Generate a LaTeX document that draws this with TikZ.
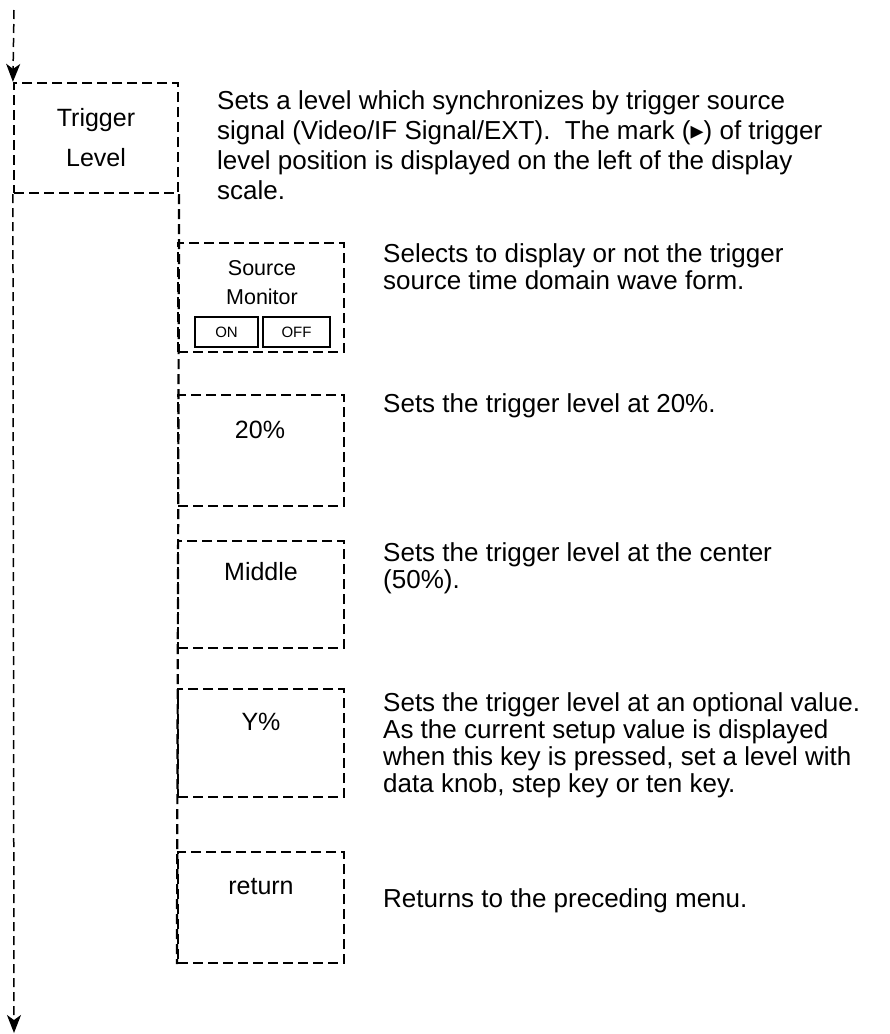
\documentclass[tikz,border=0pt]{standalone}
\usepackage{fontspec}
\setmainfont{Liberation Sans}
\newfontfamily\symf{DejaVu Sans}
\usetikzlibrary{arrows.meta}
\tikzset{
  flowline/.style={line width=1.5pt, dash pattern=on 9pt off 5pt},
  colline/.style={line width=2.2pt, dash pattern=on 10pt off 5pt},
  menubox/.style={draw, line width=2.2pt, dash pattern=on 10pt off 5pt, rectangle, inner sep=0pt},
  keybtn/.style={draw, line width=1.8pt, rectangle, inner sep=0pt, font=\fontsize{15}{15}\selectfont},
  boxlabel/.style={inner sep=0pt, align=center, font=\fontsize{25}{40}\selectfont},
  desc/.style={inner sep=0pt, anchor=north west, align=left, font=\fontsize{26}{27}\selectfont},
  tip/.style={-{Stealth[length=18pt,width=14pt,inset=5pt]}}
}
\begin{document}
\begin{tikzpicture}[x=1pt,y=-1pt]
\useasboundingbox (0,0) rectangle (890,1034);
% boxes
\node[menubox, minimum width=164, minimum height=110] (trig) at (96,138) {};
\node[menubox, minimum width=166, minimum height=109] (src) at (261,297.5) {};
\node[menubox, minimum width=166, minimum height=111] (p20) at (261,450.5) {};
\node[menubox, minimum width=166, minimum height=107] (mid) at (261,594.5) {};
\node[menubox, minimum width=166, minimum height=108] (yp) at (261,743) {};
\node[menubox, minimum width=166, minimum height=111] (ret) at (261,907.5) {};
% flow lines
\coordinate (top) at (14,10);
\coordinate (bot) at (14,1033);
\draw[flowline, tip] (top) -- (trig.north west);
\draw[flowline, tip] (trig.south west) -- (bot);
\draw[colline] (trig.south east) -- (ret.south west);
% labels
\node[boxlabel] (lt) at (96,138) {Trigger\\Level};
\node[boxlabel, font=\fontsize{21.5}{29}\selectfont] (ls) at (262,283) {Source\\Monitor};
\node[keybtn, minimum width=63, minimum height=30] (on) at (226.5,332) {ON};
\node[keybtn, minimum width=67, minimum height=30] (off) at (296.5,332) {OFF};
\node[boxlabel] (l20) at (260,430) {20\%};
\node[boxlabel] (lmid) at (261,572) {Middle};
\node[boxlabel] (lyp) at (261,722) {Y\%};
\node[boxlabel] (lret) at (261,887) {return};
% descriptions
\node[desc, font=\fontsize{26}{30}\selectfont] (d1) at (217,90) {Sets a level which synchronizes by trigger source\\signal (Video/IF Signal/EXT).\ \ The mark ({\symf ▸}) of trigger\\level position is displayed on the left of the display\\scale.};
\node[desc] (d2) at (383,243) {Selects to display or not the trigger\\source time domain wave form.};
\node[desc] (d3) at (383,393) {Sets the trigger level at 20\%.};
\node[desc] (d4) at (383,542) {Sets the trigger level at the center\\(50\%).};
\node[desc] (d5) at (383,692) {Sets the trigger level at an optional value.\\As the current setup value is displayed\\when this key is pressed, set a level with\\data knob, step key or ten key.};
\node[desc] (d6) at (383,888) {Returns to the preceding menu.};
\end{tikzpicture}
\end{document}
